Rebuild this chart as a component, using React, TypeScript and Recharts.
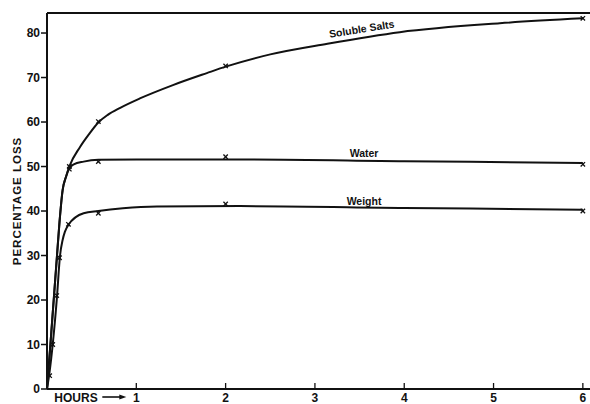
import React from 'react';
import {
  ComposedChart,
  Line,
  Scatter,
  XAxis,
  YAxis,
  ReferenceLine,
  ReferenceDot,
} from 'recharts';

// Smoothed curves: t = hours, v = percentage loss
const solubleSaltsCurve = [
  { t: 0, v: 0 },
  { t: 0.038, v: 10 },
  { t: 0.075, v: 20 },
  { t: 0.112, v: 30 },
  { t: 0.14, v: 37.5 },
  { t: 0.175, v: 44.7 },
  { t: 0.213, v: 47.7 },
  { t: 0.25, v: 50 },
  { t: 0.37, v: 54.4 },
  { t: 0.475, v: 57.4 },
  { t: 0.575, v: 59.9 },
  { t: 0.68, v: 61.6 },
  { t: 0.82, v: 63.2 },
  { t: 1.04, v: 65.3 },
  { t: 1.41, v: 68.3 },
  { t: 1.79, v: 71.0 },
  { t: 2.01, v: 72.5 },
  { t: 2.5, v: 75.2 },
  { t: 3.14, v: 77.6 },
  { t: 3.95, v: 80.2 },
  { t: 5.07, v: 82.2 },
  { t: 6, v: 83.3 },
];

const waterCurve = [
  { t: 0, v: 0 },
  { t: 0.038, v: 10 },
  { t: 0.075, v: 20 },
  { t: 0.112, v: 30 },
  { t: 0.14, v: 37.5 },
  { t: 0.175, v: 44.7 },
  { t: 0.213, v: 47.7 },
  { t: 0.25, v: 49.6 },
  { t: 0.3, v: 50.5 },
  { t: 0.41, v: 51.1 },
  { t: 0.575, v: 51.5 },
  { t: 1, v: 51.6 },
  { t: 2.16, v: 51.6 },
  { t: 4, v: 51.2 },
  { t: 6, v: 50.8 },
];

const weightCurve = [
  { t: 0, v: 0 },
  { t: 0.03, v: 4 },
  { t: 0.064, v: 10 },
  { t: 0.109, v: 20 },
  { t: 0.146, v: 30 },
  { t: 0.175, v: 33.5 },
  { t: 0.2, v: 35.3 },
  { t: 0.24, v: 36.9 },
  { t: 0.41, v: 39.5 },
  { t: 0.575, v: 40.0 },
  { t: 0.85, v: 40.6 },
  { t: 1.23, v: 41.0 },
  { t: 2.16, v: 41.1 },
  { t: 4, v: 40.7 },
  { t: 6, v: 40.3 },
];

// Measured points (small crosses)
const solubleSaltsPoints = [
  { t: 0.25, v: 50 },
  { t: 0.575, v: 60.1 },
  { t: 2, v: 72.6 },
  { t: 6, v: 83.3 },
];
const waterPoints = [
  { t: 0.25, v: 49.4 },
  { t: 0.575, v: 51.1 },
  { t: 2, v: 52.2 },
  { t: 6, v: 50.5 },
];
const weightPoints = [
  { t: 0.03, v: 3 },
  { t: 0.064, v: 10 },
  { t: 0.109, v: 21 },
  { t: 0.14, v: 29.5 },
  { t: 0.24, v: 37 },
  { t: 0.575, v: 39.5 },
  { t: 2, v: 41.6 },
  { t: 6, v: 40 },
];

const hourTicks = [1, 2, 3, 4, 5, 6];
const lossTicks = [0, 10, 20, 30, 40, 50, 60, 70, 80];

const INK = '#111';
const FONT = '"Liberation Sans", Arial, sans-serif';

const Cross = (props: any) => {
  const { cx, cy } = props;
  const s = 2.2;
  return (
    <g stroke={INK} strokeWidth={1.3}>
      <line x1={cx - s} y1={cy - s} x2={cx + s} y2={cy + s} />
      <line x1={cx - s} y1={cy + s} x2={cx + s} y2={cy - s} />
    </g>
  );
};

const HourTick = (props: any) => {
  const { x, y, payload } = props;
  return (
    <g>
      <line x1={x} x2={x} y1={y - 6} y2={y} stroke={INK} strokeWidth={1.3} />
      <text
        x={x}
        y={y + 13}
        textAnchor="middle"
        fontFamily={FONT}
        fontWeight="bold"
        fontSize={12}
        fill={INK}
      >
        {payload.value}
      </text>
      {payload.value === 1 && (
        <g>
          <text
            x={x - 82}
            y={y + 13}
            textAnchor="start"
            fontFamily={FONT}
            fontWeight="bold"
            fontSize={12}
            fill={INK}
          >
            HOURS
          </text>
          <line x1={x - 34} x2={x - 16} y1={y + 8} y2={y + 8} stroke={INK} strokeWidth={1.6} />
          <polygon
            points={`${x - 17},${y + 5.5} ${x - 10},${y + 8} ${x - 17},${y + 10.5}`}
            fill={INK}
          />
        </g>
      )}
    </g>
  );
};

const CurveLabel = (text: string, angle: number) => (props: any) => {
  const { viewBox } = props;
  const cx = viewBox.x + viewBox.width / 2;
  const cy = viewBox.y + viewBox.height / 2;
  return (
    <text
      x={cx}
      y={cy}
      textAnchor="middle"
      fontFamily={FONT}
      fontWeight="bold"
      fontSize={10.5}
      fill={INK}
      transform={`rotate(${angle} ${cx} ${cy})`}
    >
      {text}
    </text>
  );
};

export default function App() {
  return (
    <div style={{ position: 'absolute', left: 0, top: 0, background: '#fff' }}>
      <ComposedChart
        width={590}
        height={404}
        margin={{ top: 13, right: 0, bottom: 0, left: 0 }}
      >
        <XAxis
          type="number"
          dataKey="t"
          domain={[0, 6.08]}
          ticks={hourTicks}
          allowDataOverflow
          height={15}
          tickSize={0}
          tickMargin={0}
          tickLine={false}
          axisLine={{ stroke: INK, strokeWidth: 2 }}
          tick={<HourTick />}
        />
        <YAxis
          type="number"
          dataKey="v"
          domain={[0, 84.5]}
          ticks={lossTicks}
          allowDataOverflow
          width={47}
          tickSize={6}
          tickMargin={1}
          tickLine={{ stroke: INK, strokeWidth: 1.5 }}
          axisLine={{ stroke: INK, strokeWidth: 2 }}
          tick={{ fill: INK, fontFamily: FONT, fontWeight: 'bold', fontSize: 12 }}
          label={{
            value: 'PERCENTAGE LOSS',
            angle: -90,
            position: 'insideLeft',
            offset: 17,
            style: {
              fill: INK,
              fontFamily: FONT,
              fontWeight: 'bold',
              fontSize: 11.5,
              letterSpacing: 1,
              textAnchor: 'middle',
            },
          }}
        />
        <ReferenceLine y={84.5} stroke={INK} strokeWidth={2} ifOverflow="visible" />

        <Line
          data={solubleSaltsCurve}
          dataKey="v"
          type="monotone"
          stroke={INK}
          strokeWidth={2}
          dot={false}
          isAnimationActive={false}
        />
        <Line
          data={waterCurve}
          dataKey="v"
          type="monotone"
          stroke={INK}
          strokeWidth={2}
          dot={false}
          isAnimationActive={false}
        />
        <Line
          data={weightCurve}
          dataKey="v"
          type="monotone"
          stroke={INK}
          strokeWidth={2}
          dot={false}
          isAnimationActive={false}
        />

        <Scatter data={solubleSaltsPoints} dataKey="v" shape={<Cross />} isAnimationActive={false} />
        <Scatter data={waterPoints} dataKey="v" shape={<Cross />} isAnimationActive={false} />
        <Scatter data={weightPoints} dataKey="v" shape={<Cross />} isAnimationActive={false} />

        <ReferenceDot
          x={3.53}
          y={80.1}
          r={1}
          fill="none"
          stroke="none"
          label={{ content: CurveLabel('Soluble Salts', -9) }}
        />
        <ReferenceDot
          x={3.55}
          y={52.1}
          r={1}
          fill="none"
          stroke="none"
          label={{ content: CurveLabel('Water', 0) }}
        />
        <ReferenceDot
          x={3.55}
          y={41.3}
          r={1}
          fill="none"
          stroke="none"
          label={{ content: CurveLabel('Weight', 0) }}
        />
      </ComposedChart>
    </div>
  );
}
